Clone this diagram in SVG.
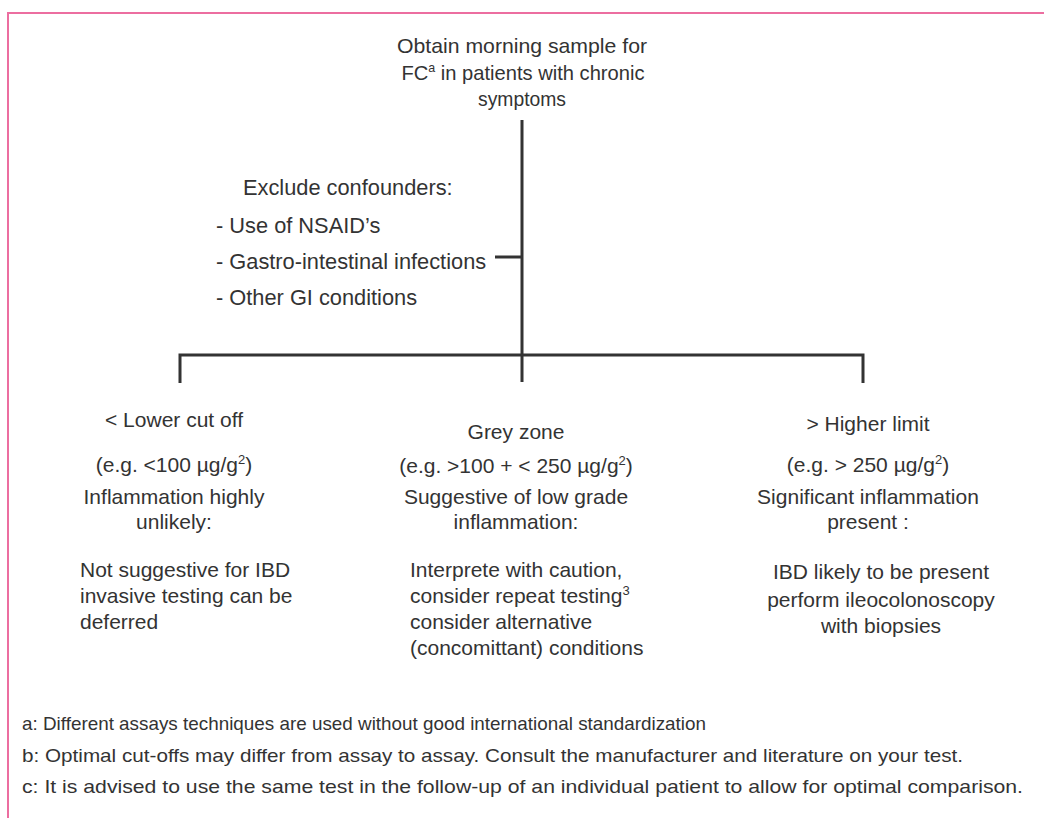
<svg xmlns="http://www.w3.org/2000/svg" width="1044" height="818" viewBox="0 0 1044 818">
<style>
text{font-family:"Liberation Sans",Arial,sans-serif;fill:#333;font-size:21px}
.c{text-anchor:middle}
.cf{font-size:21.8px}
.fn{font-size:19px}
.ln{stroke:#333;stroke-width:3;fill:none;stroke-linecap:butt}
</style>
<rect width="1044" height="818" fill="#fff"/>
<path d="M8,818 V13 H1044" fill="none" stroke="#ec6ea0" stroke-width="2"/>
<g id="connectors">
<path class="ln" d="M522,120 V382"/>
<path class="ln" d="M495,257 H522"/>
<path class="ln" d="M180,383 V355 H863 V383"/>
</g>
<g id="start">
<text class="c" x="522" y="53" textLength="250" lengthAdjust="spacingAndGlyphs">Obtain morning sample for</text>
<text class="c" x="523" y="80" textLength="243" lengthAdjust="spacingAndGlyphs">FC<tspan font-size="13" dy="-8">a</tspan><tspan dy="8"> in patients with chronic</tspan></text>
<text class="c" x="522" y="106" textLength="88" lengthAdjust="spacingAndGlyphs">symptoms</text>
</g>
<g id="confounders">
<text class="cf" x="243" y="195">Exclude confounders:</text>
<text class="cf" x="216" y="233">- Use of NSAID’s</text>
<text class="cf" x="216" y="269">- Gastro-intestinal infections</text>
<text class="cf" x="216" y="305">- Other GI conditions</text>
</g>
<g id="low">
<text class="c" x="174" y="427">&lt; Lower cut off</text>
<text class="c" x="174" y="472">(e.g. &lt;100 µg/g<tspan font-size="13" dy="-8">2</tspan><tspan dy="8">)</tspan></text>
<text class="c" x="174" y="504">Inflammation highly</text>
<text class="c" x="174" y="529">unlikely:</text>
<text x="80" y="577">Not suggestive for IBD</text>
<text x="80" y="603">invasive testing can be</text>
<text x="80" y="629">deferred</text>
</g>
<g id="grey">
<text class="c" x="516" y="439">Grey zone</text>
<text class="c" x="516" y="473">(e.g. &gt;100 + &lt; 250 µg/g<tspan font-size="13" dy="-8">2</tspan><tspan dy="8">)</tspan></text>
<text class="c" x="516" y="504">Suggestive of low grade</text>
<text class="c" x="516" y="529">inflammation:</text>
<text x="410" y="577">Interprete with caution,</text>
<text x="410" y="603">consider repeat testing<tspan font-size="13" dy="-8">3</tspan></text>
<text x="410" y="629">consider alternative</text>
<text x="410" y="655">(concomittant) conditions</text>
</g>
<g id="high">
<text class="c" x="868" y="431">&gt; Higher limit</text>
<text class="c" x="868" y="472">(e.g. &gt; 250 µg/g<tspan font-size="13" dy="-8">2</tspan><tspan dy="8">)</tspan></text>
<text class="c" x="868" y="504">Significant inflammation</text>
<text class="c" x="868" y="529">present :</text>
<text class="c" x="881" y="579">IBD likely to be present</text>
<text class="c" x="881" y="607">perform ileocolonoscopy</text>
<text class="c" x="881" y="633">with biopsies</text>
</g>
<g id="footnotes">
<text class="fn" x="22" y="730" textLength="684" lengthAdjust="spacingAndGlyphs">a: Different assays techniques are used without good international standardization</text>
<text class="fn" x="22" y="762" textLength="941" lengthAdjust="spacingAndGlyphs">b: Optimal cut-offs may differ from assay to assay. Consult the manufacturer and literature on your test.</text>
<text class="fn" x="22" y="793" textLength="1001" lengthAdjust="spacingAndGlyphs">c: It is advised to use the same test in the follow-up of an individual patient to allow for optimal comparison.</text>
</g>
</svg>
